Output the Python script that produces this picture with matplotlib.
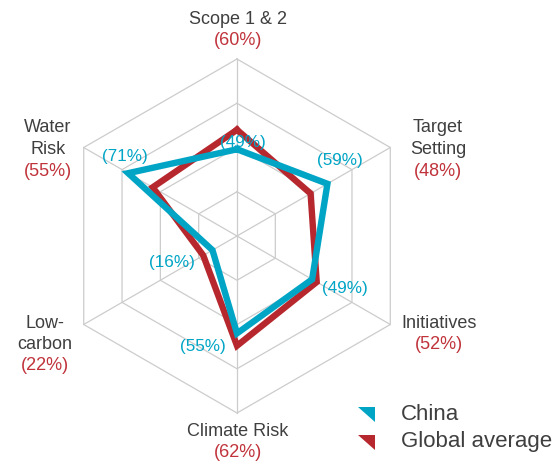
import numpy as np
import matplotlib
matplotlib.use("Agg")
import matplotlib.pyplot as plt
from matplotlib.path import Path

categories = ["Scope 1 & 2", "Target\nSetting", "Initiatives", "Climate Risk", "Low-\ncarbon", "Water\nRisk"]
china = [49, 59, 49, 55, 16, 71]
global_avg = [60, 48, 52, 62, 22, 55]
series_names = ["China", "Global average"]
ring_levels = [25, 50, 75, 100]

BLUE = "#00A5C6"
RED = "#B7282E"
RED_TXT = "#C0333B"
GRAY_TXT = "#3f3f3f"
GRID = "#cccccc"
FONT = "Liberation Sans"

W, H = 556, 462
cx, cy, R = 237, 226, 177  # center (px from left, px from bottom), radius px

fig = plt.figure(figsize=(W / 100, H / 100), dpi=100)
ax = fig.add_axes([0, 0, 1, 1])
ax.set_xlim(-cx / R, (W - cx) / R)
ax.set_ylim(-cy / R, (H - cy) / R)
ax.axis("off")

n = len(categories)
angles = np.pi / 2 - np.arange(n) * 2 * np.pi / n


def xy(vals):
    v = np.asarray(vals, dtype=float) / 100.0
    return v * np.cos(angles), v * np.sin(angles)


# grid rings
for lv in ring_levels:
    x, y = xy([lv] * n)
    ax.plot(np.append(x, x[0]), np.append(y, y[0]), color=GRID, lw=0.9, zorder=1)
# spokes
for a in angles:
    ax.plot([0, np.cos(a)], [0, np.sin(a)], color=GRID, lw=0.9, zorder=1)

# series
for vals, col, z in [(global_avg, RED, 3), (china, BLUE, 4)]:
    x, y = xy(vals)
    ax.plot(np.append(x, x[0]), np.append(y, y[0]), color=col, lw=4.6,
            solid_joinstyle="miter", zorder=z)


def px(x, y_top):
    # convert pixel (from left, from top) to data coords
    return (x - cx) / R, ((H - y_top) - cy) / R


# category labels: (x_center, y_top_of_first_line_center)
label_pos = [(238, 19), (438, 128), (439, 323), (238, 431), (45, 323), (48, 128)]
gvals = global_avg
LS = 21.5
for cat, (lx, ly), gv in zip(categories, label_pos, gvals):
    lines = cat.split("\n")
    for i, ln in enumerate(lines):
        ax.text(*px(lx, ly + i * LS), ln, ha="center", va="center",
                fontsize=13, color=GRAY_TXT, family=FONT, zorder=6)
    ax.text(*px(lx, ly + len(lines) * LS), f"({gv}%)", ha="center", va="center",
            fontsize=13, color=RED_TXT, family=FONT, zorder=6)

# China value labels
china_pos = [(243, 143), (340, 160), (345, 289), (203, 347), (172, 263), (125, 157)]
for (lx, ly), v in zip(china_pos, china):
    ax.text(*px(lx, ly), f"({v}%)", ha="center", va="center",
            fontsize=12.3, color=BLUE, family=FONT, zorder=6)

# legend
for i, (name, col) in enumerate(zip(series_names, [BLUE, RED])):
    yt = 407 + i * 28
    tri = [px(358, yt), px(375, yt), px(375, yt + 15)]
    ax.add_patch(plt.Polygon(tri, closed=True, color=col, lw=0, zorder=6))
    ax.text(*px(401, yt + 7), name, ha="left", va="center", fontsize=16,
            color=GRAY_TXT, family=FONT, zorder=6)

fig.savefig("out.png", dpi=100, facecolor="white")
